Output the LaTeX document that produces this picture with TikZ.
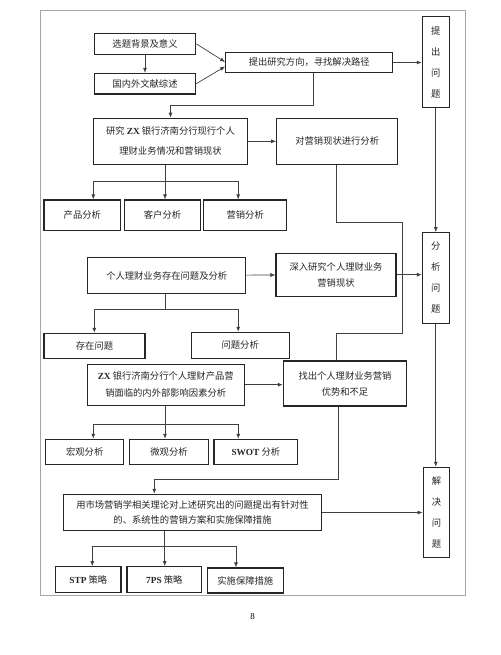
\documentclass[tikz,border=0pt]{standalone}
\usepackage{fontspec}
\setmainfont{Liberation Serif}
\newfontfamily\cjk{Noto Sans CJK SC}
\usetikzlibrary{arrows.meta}
\begin{document}
\begin{tikzpicture}[x=1pt,y=-1pt,
 box/.style={draw=black!85, line width=1.1pt, inner sep=0pt, align=center, font=\cjk\fontsize{9.3}{16}\selectfont, text=black!85},
 vbox/.style={box, font=\cjk\fontsize{9.3}{21}\selectfont},
 ln/.style={draw=black!75, line width=0.7pt},
 arr/.style={ln, -{Latex[length=5pt,width=4pt]}}]
\fill[white] (0,0) rectangle (500,655);
\useasboundingbox (0,0) rectangle (500,655);
\draw[black!35, line width=0.8pt] (40.7,10) rectangle (465,595);

% nodes
\node[box, minimum width=101.4pt, minimum height=21pt] (t1) at (145,43.8) {选题背景及意义};
\node[box, minimum width=101.4pt, minimum height=20.7pt] (t2) at (145,83.7) {国内外文献综述};
\node[box, minimum width=167pt, minimum height=20.4pt] (t3) at (309.2,62.5) {提出研究方向，寻找解决路径};
\node[vbox, minimum width=27pt, minimum height=91pt] (p1) at (435.8,62.2) {提\\出\\问\\题};
\node[box, minimum width=154.4pt, minimum height=46pt, font=\cjk\fontsize{9.3}{20}\selectfont] (r1) at (170.5,141.3) {研究 {\rmfamily\bfseries ZX} 银行济南分行现行个人\\理财业务情况和营销现状};
\node[box, minimum width=121pt, minimum height=46pt] (r2) at (337.2,141.3) {对营销现状进行分析};
\node[box, minimum width=76.7pt, minimum height=30.7pt] (a1) at (82.3,215.3) {产品分析};
\node[box, minimum width=76.4pt, minimum height=30.7pt] (a2) at (162.5,215.3) {客户分析};
\node[box, minimum width=83pt, minimum height=30.7pt] (a3) at (245.2,215.3) {营销分析};
\node[vbox, minimum width=27pt, minimum height=90.6pt] (p2) at (435.8,278) {分\\析\\问\\题};
\node[box, minimum width=158pt, minimum height=35.6pt] (q1) at (166.7,275.5) {个人理财业务存在问题及分析};
\node[box, minimum width=120pt, minimum height=42.7pt] (q2) at (336,274.7) {深入研究个人理财业务\\营销现状};
\node[box, minimum width=101pt, minimum height=25pt] (b1) at (94.5,345.8) {存在问题};
\node[box, minimum width=98.3pt, minimum height=26pt] (b2) at (240.2,345.3) {问题分析};
\node[box, minimum width=157.3pt, minimum height=40.7pt, font=\cjk\fontsize{9.3}{16.7}\selectfont] (z1) at (165.7,384.7) {{\rmfamily\bfseries ZX} 银行济南分行个人理财产品营\\销面临的内外部影响因素分析};
\node[box, minimum width=123.4pt, minimum height=45pt] (z2) at (345,383.5) {找出个人理财业务营销\\优势和不足};
\node[box, minimum width=78pt, minimum height=25pt] (c1) at (84.7,451.8) {宏观分析};
\node[box, minimum width=78.6pt, minimum height=25pt] (c2) at (169,451.8) {微观分析};
\node[box, minimum width=83.7pt, minimum height=25pt] (c3) at (255.8,451.8) {{\rmfamily\bfseries SWOT} 分析};
\node[vbox, minimum width=26.7pt, minimum height=90.4pt] (p3) at (436.5,512.5) {解\\决\\问\\题};
\node[box, minimum width=258.4pt, minimum height=36.4pt, font=\cjk\fontsize{9.3}{15}\selectfont] (s1) at (192.5,512.5) {用市场营销学相关理论对上述研究出的问题提出有针对性\\的、系统性的营销方案和实施保障措施};
\node[box, minimum width=65.3pt, minimum height=26pt] (d1) at (88.3,579.7) {{\rmfamily\bfseries STP} 策略};
\node[box, minimum width=74.7pt, minimum height=26pt] (d2) at (164.3,579.7) {{\rmfamily\bfseries 7PS} 策略};
\node[box, minimum width=76pt, minimum height=25pt] (d3) at (245.3,580.5) {实施保障措施};
\node[font=\fontsize{9}{10}\selectfont] (pg) at (252.7,616.7) {8};

% junction coordinates
\coordinate (k1) at (313.7,105);
\coordinate (j1) at (165,181);
\coordinate (k2) at (402.7,222.7);
\coordinate (k3) at (336.7,333.3);
\coordinate (j2) at (165,309.3);
\coordinate (j3) at (165,424.3);
\coordinate (k4) at (338.3,479);
\coordinate (j4) at (164.7,546.7);

% connectors
\draw[arr] (t1) -- (t2);
\draw[arr] (t1.east) -- ([yshift=0.5pt]t3.west);
\draw[arr] (t2.east) -- ([yshift=-4pt]t3.west);
\draw[arr] (t3.east) -- (t3.east -| p1.west);
\draw[arr] (t3.south -| k1) -- (k1) -| (r1.north);
\draw[arr] (r1) -- (r2);
\draw[ln] (r1.south -| j1) -- (j1);
\draw[arr] (j1) -| ([xshift=11pt]a1.north);
\draw[arr] (j1) -- (j1 |- a2.north);
\draw[arr] (j1) -| ([xshift=-7pt]a3.north);
\draw[ln] (r2.south -| 336.7,0) |- (k2) |- (k3) -- (k3 |- z2.north);
\draw[arr] (p1) -- (p1 |- p2.north);
\draw[arr] (q1) -- (q2);
\draw[arr] (q2.east) -- (q2.east -| p2.west);
\draw[ln] (q1.south -| j2) -- (j2);
\draw[arr] (j2) -| ([xshift=-0.2pt]b1.north);
\draw[arr] (j2) -| ([xshift=-2pt]b2.north);
\draw[arr] (z1) -- (z1 -| z2.west);
\draw[ln] (z1.south -| j3) -- (j3);
\draw[arr] (j3) -| ([xshift=8.6pt]c1.north);
\draw[arr] (j3) -- (j3 |- c2.north);
\draw[arr] (j3) -| ([xshift=-17.5pt]c3.north);
\draw[arr] (p2) -- (p2 |- p3.north);
\draw[arr] (z2.south -| k4) -- (k4) -| ([xshift=-38.2pt]s1.north);
\draw[arr] (s1.east) -- (s1.east -| p3.west);
\draw[ln] (s1.south -| j4) -- (j4);
\draw[arr] (j4) -| ([xshift=4pt]d1.north);
\draw[arr] (j4) -- (j4 |- d2.north);
\draw[arr] (j4) -| ([xshift=-9.3pt]d3.north);
\end{tikzpicture}
\end{document}
